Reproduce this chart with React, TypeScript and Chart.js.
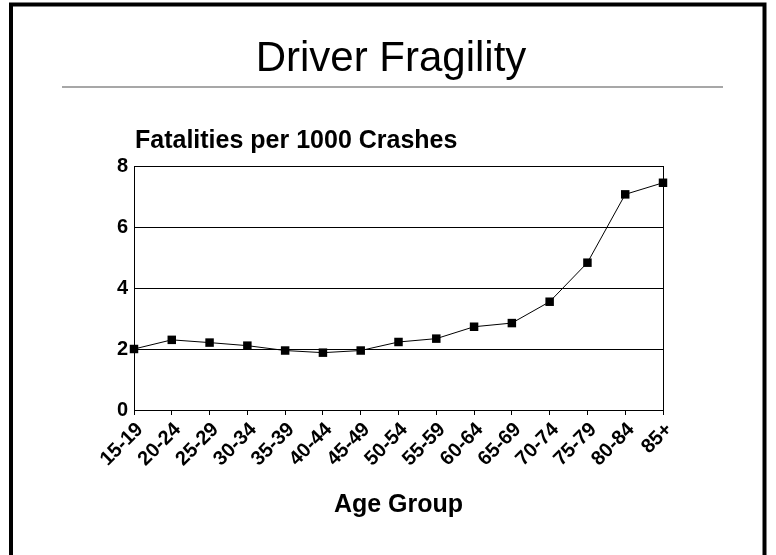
import React, { useEffect, useRef } from 'react';
import { Chart, registerables } from 'chart.js';

Chart.register(...registerables);

const categories = ['15-19', '20-24', '25-29', '30-34', '35-39', '40-44', '45-49', '50-54', '55-59', '60-64', '65-69', '70-74', '75-79', '80-84', '85+'];
const fatalities = [2.0, 2.3, 2.21, 2.11, 1.95, 1.88, 1.95, 2.23, 2.34, 2.73, 2.85, 3.55, 4.83, 7.07, 7.45];
const yMin = 0;
const yMax = 8;
const yStep = 2;
const chartTitle = 'Driver Fragility';
const yCaption = 'Fatalities per 1000 Crashes';
const xCaption = 'Age Group';

const FONT = '"Liberation Sans", Arial, Helvetica, sans-serif';

const slidePlugin = {
  id: 'slideDecor',
  beforeDraw(chart: any) {
    const ctx = chart.ctx;
    ctx.save();
    ctx.fillStyle = '#fff';
    ctx.fillRect(0, 0, chart.width, chart.height);
    // slide frame
    ctx.strokeStyle = '#000';
    ctx.lineWidth = 4;
    ctx.strokeRect(11, 4.5, 753.5, 700);
    // title
    ctx.fillStyle = '#000';
    ctx.font = `42px ${FONT}`;
    ctx.textAlign = 'center';
    ctx.textBaseline = 'alphabetic';
    ctx.fillText(chartTitle, 391, 71);
    // rule under title
    ctx.strokeStyle = '#8a8a8a';
    ctx.lineWidth = 1.5;
    ctx.beginPath();
    ctx.moveTo(62, 87);
    ctx.lineTo(723, 87);
    ctx.stroke();
    // y caption
    ctx.font = `bold 25px ${FONT}`;
    ctx.textAlign = 'left';
    ctx.fillText(yCaption, chart.chartArea.left + 1, 148);
    ctx.restore();
  },
  beforeDatasetsDraw(chart: any) {
    const { ctx, chartArea } = chart;
    ctx.save();
    ctx.strokeStyle = '#000';
    ctx.lineWidth = 1;
    ctx.beginPath();
    const r = Math.round(chartArea.right) + 0.5;
    ctx.moveTo(r, chartArea.top);
    ctx.lineTo(r, chartArea.bottom);
    ctx.stroke();
    ctx.restore();
  },
};

export default function App() {
  const ref = useRef<HTMLCanvasElement | null>(null);

  useEffect(() => {
    if (!ref.current) return;
    const chart = new Chart(ref.current, {
      type: 'line',
      data: {
        labels: categories,
        datasets: [
          {
            data: fatalities,
            borderColor: '#000',
            backgroundColor: '#000',
            borderWidth: 1,
            pointStyle: 'rect',
            pointRadius: 6,
            pointBorderWidth: 0,
            pointBackgroundColor: '#000',
            tension: 0,
            clip: false as any,
          },
        ],
      },
      options: {
        animation: false,
        responsive: false,
        maintainAspectRatio: false,
        layout: { padding: { left: 94, right: 113, top: 166, bottom: 35 } },
        plugins: {
          legend: { display: false },
          tooltip: { enabled: false },
          title: { display: false },
        },
        scales: {
          x: {
            type: 'category',
            offset: false,
            grid: { drawOnChartArea: false, drawTicks: true, tickLength: 5, color: '#000', lineWidth: 1 },
            border: { display: true, color: '#000', width: 1 },
            ticks: {
              color: '#000',
              font: { family: FONT, size: 20, weight: 'bold' },
              minRotation: 45,
              maxRotation: 45,
              padding: 3,
              labelOffset: 6,
              autoSkip: false,
            },
            title: {
              display: true,
              text: xCaption,
              color: '#000',
              font: { family: FONT, size: 25, weight: 'bold' },
              padding: 0,
            },
            afterFit: (axis: any) => {
              axis.height = 110;
            },
          },
          y: {
            min: yMin,
            max: yMax,
            grid: { drawTicks: false, color: '#000', lineWidth: 1 },
            border: { display: true, color: '#000', width: 1 },
            ticks: {
              stepSize: yStep,
              color: '#000',
              padding: 6,
              font: { family: FONT, size: 20, weight: 'bold' },
            },
            afterFit: (axis: any) => {
              axis.width = 40;
            },
          },
        },
      },
      plugins: [slidePlugin],
    });
    return () => chart.destroy();
  }, []);

  return (
    <div style={{ position: 'fixed', left: 0, top: 0, width: 776, height: 555, overflow: 'hidden', background: '#fff' }}>
      <canvas ref={ref} width={776} height={555} style={{ display: 'block', width: 776, height: 555 }} />
    </div>
  );
}
